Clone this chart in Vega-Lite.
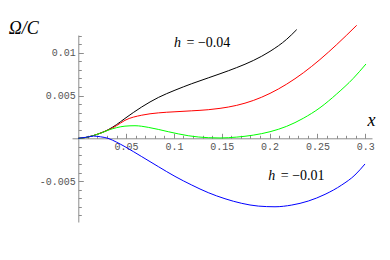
{
  "$schema": "https://vega.github.io/schema/vega-lite/v6.json",
  "width": 300,
  "height": 187,
  "autosize": {"type": "none"},
  "padding": {"left": 72, "top": 35, "right": 18, "bottom": 38},
  "background": "white",
  "config": {"view": {"stroke": null}, "axis": {"grid": false}},
  "datasets": {
    "curves": [
      {"h": "-0.04", "x": 0, "y": 0},
      {"h": "-0.04", "x": 0.008, "y": 0.0001},
      {"h": "-0.04", "x": 0.016, "y": 0.00033},
      {"h": "-0.04", "x": 0.024, "y": 0.00064},
      {"h": "-0.04", "x": 0.032, "y": 0.00105},
      {"h": "-0.04", "x": 0.04, "y": 0.0016},
      {"h": "-0.04", "x": 0.0488, "y": 0.00232},
      {"h": "-0.04", "x": 0.0663, "y": 0.00366},
      {"h": "-0.04", "x": 0.0837, "y": 0.00477},
      {"h": "-0.04", "x": 0.1011, "y": 0.00562},
      {"h": "-0.04", "x": 0.1186, "y": 0.00638},
      {"h": "-0.04", "x": 0.1359, "y": 0.00706},
      {"h": "-0.04", "x": 0.1482, "y": 0.00754},
      {"h": "-0.04", "x": 0.1656, "y": 0.00826},
      {"h": "-0.04", "x": 0.183, "y": 0.00909},
      {"h": "-0.04", "x": 0.2005, "y": 0.01016},
      {"h": "-0.04", "x": 0.2179, "y": 0.01157},
      {"h": "-0.04", "x": 0.2284, "y": 0.0127},
      {"h": "-0.03", "x": 0, "y": 0},
      {"h": "-0.03", "x": 0.008, "y": 0.0001},
      {"h": "-0.03", "x": 0.016, "y": 0.00033},
      {"h": "-0.03", "x": 0.024, "y": 0.00064},
      {"h": "-0.03", "x": 0.032, "y": 0.001},
      {"h": "-0.03", "x": 0.04, "y": 0.00148},
      {"h": "-0.03", "x": 0.0488, "y": 0.0021},
      {"h": "-0.03", "x": 0.0663, "y": 0.0027},
      {"h": "-0.03", "x": 0.0837, "y": 0.00297},
      {"h": "-0.03", "x": 0.1011, "y": 0.0031},
      {"h": "-0.03", "x": 0.1186, "y": 0.00321},
      {"h": "-0.03", "x": 0.1359, "y": 0.00334},
      {"h": "-0.03", "x": 0.1482, "y": 0.0035},
      {"h": "-0.03", "x": 0.1656, "y": 0.00385},
      {"h": "-0.03", "x": 0.183, "y": 0.00442},
      {"h": "-0.03", "x": 0.2005, "y": 0.00525},
      {"h": "-0.03", "x": 0.2179, "y": 0.00633},
      {"h": "-0.03", "x": 0.2353, "y": 0.00765},
      {"h": "-0.03", "x": 0.2527, "y": 0.0092},
      {"h": "-0.03", "x": 0.2702, "y": 0.01095},
      {"h": "-0.03", "x": 0.2911, "y": 0.0132},
      {"h": "-0.02", "x": 0, "y": 0},
      {"h": "-0.02", "x": 0.008, "y": 0.0001},
      {"h": "-0.02", "x": 0.016, "y": 0.00033},
      {"h": "-0.02", "x": 0.024, "y": 0.00062},
      {"h": "-0.02", "x": 0.032, "y": 0.00098},
      {"h": "-0.02", "x": 0.04, "y": 0.00124},
      {"h": "-0.02", "x": 0.0488, "y": 0.00142},
      {"h": "-0.02", "x": 0.0593, "y": 0.00147},
      {"h": "-0.02", "x": 0.0732, "y": 0.00128},
      {"h": "-0.02", "x": 0.0941, "y": 0.00077},
      {"h": "-0.02", "x": 0.115, "y": 0.0003},
      {"h": "-0.02", "x": 0.1359, "y": 0.00007},
      {"h": "-0.02", "x": 0.1482, "y": 0.00004},
      {"h": "-0.02", "x": 0.1656, "y": 0.00014},
      {"h": "-0.02", "x": 0.183, "y": 0.00037},
      {"h": "-0.02", "x": 0.2005, "y": 0.00077},
      {"h": "-0.02", "x": 0.2179, "y": 0.0014},
      {"h": "-0.02", "x": 0.2353, "y": 0.00234},
      {"h": "-0.02", "x": 0.2527, "y": 0.00357},
      {"h": "-0.02", "x": 0.2702, "y": 0.00518},
      {"h": "-0.02", "x": 0.2876, "y": 0.00701},
      {"h": "-0.02", "x": 0.3008, "y": 0.00868},
      {"h": "-0.01", "x": 0, "y": 0},
      {"h": "-0.01", "x": 0.008, "y": 0.00012},
      {"h": "-0.01", "x": 0.016, "y": 0.00026},
      {"h": "-0.01", "x": 0.023, "y": 0.00018},
      {"h": "-0.01", "x": 0.031, "y": 0},
      {"h": "-0.01", "x": 0.04, "y": -0.00045},
      {"h": "-0.01", "x": 0.0488, "y": -0.00098},
      {"h": "-0.01", "x": 0.0663, "y": -0.00214},
      {"h": "-0.01", "x": 0.0837, "y": -0.00331},
      {"h": "-0.01", "x": 0.1011, "y": -0.00445},
      {"h": "-0.01", "x": 0.1186, "y": -0.00546},
      {"h": "-0.01", "x": 0.1359, "y": -0.00635},
      {"h": "-0.01", "x": 0.1534, "y": -0.00706},
      {"h": "-0.01", "x": 0.1709, "y": -0.0076},
      {"h": "-0.01", "x": 0.1882, "y": -0.00792},
      {"h": "-0.01", "x": 0.2057, "y": -0.008},
      {"h": "-0.01", "x": 0.2232, "y": -0.0078},
      {"h": "-0.01", "x": 0.2405, "y": -0.00733},
      {"h": "-0.01", "x": 0.258, "y": -0.00655},
      {"h": "-0.01", "x": 0.2754, "y": -0.00546},
      {"h": "-0.01", "x": 0.2893, "y": -0.00429},
      {"h": "-0.01", "x": 0.2998, "y": -0.003}
    ],
    "labels": [
      {"x": 0.1001, "y": 0.01067, "h": "h", "rest": "= −0.04"},
      {"x": 0.1987, "y": -0.00487, "h": "h", "rest": "= −0.01"}
    ]
  },
  "layer": [
    {
      "data": {"name": "curves"},
      "mark": {"type": "line", "strokeWidth": 1, "interpolate": "monotone"},
      "encoding": {
        "x": {
          "field": "x", "type": "quantitative",
          "scale": {"domain": [-0.00659, 0.30712], "nice": false, "zero": false},
          "axis": {
            "orient": "top", "offset": -103.3, "labels": false, "title": null,
            "values": [0.01,0.02,0.03,0.04,0.05,0.06,0.07,0.08,0.09,0.1,0.11,0.12,0.13,0.14,0.15,0.16,0.17,0.18,0.19,0.2,0.21,0.22,0.23,0.24,0.25,0.26,0.27,0.28,0.29,0.3],
            "domainColor": "#8c8c8c", "domainWidth": 1, "tickColor": "#8c8c8c", "tickWidth": 1,
            "tickSize": {"condition": {"test": "abs(datum.value*20 - round(datum.value*20)) < 0.001", "value": 5}, "value": 3}
          }
        },
        "y": {
          "field": "y", "type": "quantitative",
          "scale": {"domain": [-0.00978, 0.01207], "nice": false, "zero": false},
          "axis": {
            "orient": "right", "offset": -293.7, "labels": false, "title": null,
            "values": [-0.009,-0.008,-0.007,-0.006,-0.005,-0.004,-0.003,-0.002,-0.001,0.001,0.002,0.003,0.004,0.005,0.006,0.007,0.008,0.009,0.01,0.011,0.012],
            "domainColor": "#8c8c8c", "domainWidth": 1, "tickColor": "#8c8c8c", "tickWidth": 1,
            "tickSize": {"condition": {"test": "abs(datum.value*200 - round(datum.value*200)) < 0.0001", "value": 5}, "value": 3}
          }
        },
        "color": {
          "field": "h", "type": "nominal",
          "scale": {"domain": ["-0.04", "-0.03", "-0.02", "-0.01"], "range": ["#000000", "#ff0000", "#00ff00", "#0000ff"]},
          "legend": null
        }
      }
    },
    {
      "data": {"name": "labels"},
      "mark": {"type": "text", "font": "Liberation Serif, DejaVu Serif, serif", "fontStyle": "italic", "fontSize": 14, "align": "left", "baseline": "alphabetic", "color": "black"},
      "encoding": {
        "x": {
          "field": "x", "type": "quantitative",
          "scale": {"domain": [-0.00659, 0.30712], "nice": false, "zero": false},
          "axis": {
            "orient": "bottom", "offset": -83.7, "ticks": false, "domain": false,
            "values": [0.05, 0.1, 0.15, 0.2, 0.25, 0.3], "format": "~g",
            "labelFont": "Liberation Mono, DejaVu Sans Mono, monospace", "labelFontSize": 10, "labelColor": "#555555", "labelPadding": 3,
            "title": "x", "titleFont": "Liberation Serif, DejaVu Serif, serif", "titleFontStyle": "italic", "titleFontWeight": "normal",
            "titleFontSize": 18, "titleColor": "black", "titleX": 295, "titleY": -13.3, "titleAlign": "left", "titleBaseline": "alphabetic"
          }
        },
        "y": {
          "field": "y", "type": "quantitative",
          "scale": {"domain": [-0.00978, 0.01207], "nice": false, "zero": false},
          "axis": {
            "orient": "left", "offset": -6.3, "ticks": false, "domain": false,
            "values": [-0.005, 0.005, 0.01],
            "labelExpr": "replace(format(datum.value, '~g'), '−', '-')",
            "labelFont": "Liberation Mono, DejaVu Sans Mono, monospace", "labelFontSize": 10, "labelColor": "#555555", "labelPadding": 3,
            "title": "Ω/C", "titleAngle": 0, "titleFont": "Liberation Serif, DejaVu Serif, serif", "titleFontStyle": "italic", "titleFontWeight": "normal",
            "titleFontSize": 18, "titleColor": "black", "titleX": -70, "titleY": -1.7, "titleAlign": "left", "titleBaseline": "alphabetic"
          }
        },
        "text": {"field": "h"}
      }
    },
    {
      "data": {"name": "labels"},
      "mark": {"type": "text", "font": "Liberation Serif, DejaVu Serif, serif", "fontSize": 14, "align": "left", "baseline": "alphabetic", "dx": 12.5, "color": "black"},
      "encoding": {
        "x": {"field": "x", "type": "quantitative", "axis": null},
        "y": {"field": "y", "type": "quantitative", "axis": null},
        "text": {"field": "rest"}
      }
    }
  ],
  "resolve": {"axis": {"x": "independent", "y": "independent"}}
}
